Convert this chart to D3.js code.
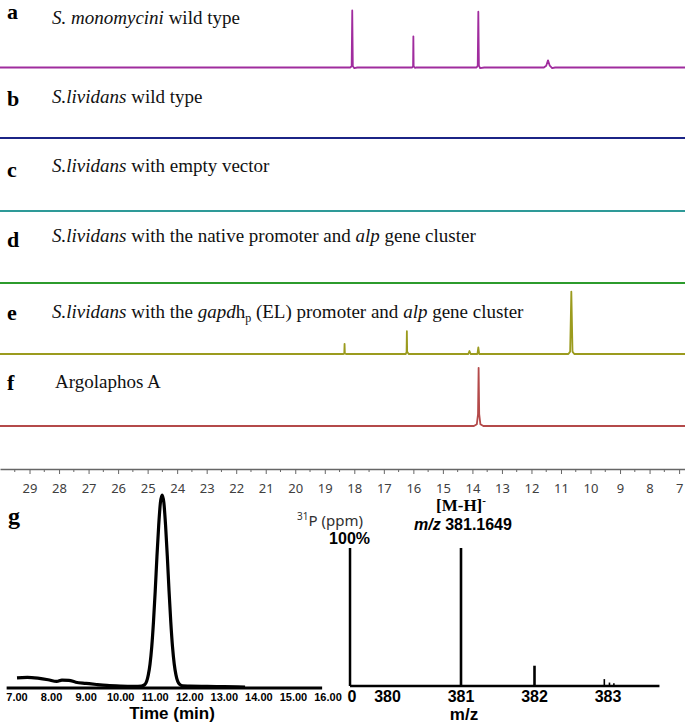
<!DOCTYPE html>
<html><head><meta charset="utf-8">
<script src="https://cdn.jsdelivr.net/npm/d3@7"></script>
<style>html,body{margin:0;padding:0;background:#fff;}svg{display:block;}</style>
</head><body><svg id="c" width="685" height="723"></svg>
<script>
// ---------- DATA ----------
const panelLetters = ["a","b","c","d","e","f"];
const captions = [
  [{t:"S. monomycini",i:1},{t:" wild type"}],
  [{t:"S.lividans",i:1},{t:" wild type"}],
  [{t:"S.lividans",i:1},{t:" with empty vector"}],
  [{t:"S.lividans",i:1},{t:" with the native promoter and "},{t:"alp",i:1},{t:" gene cluster"}],
  [{t:"S.lividans",i:1},{t:" with the "},{t:"gapd",i:1},{t:"h"},{t:"p",sub:1},{t:" (EL) promoter and "},{t:"alp",i:1},{t:" gene cluster"}],
  [{t:"Argolaphos A"}]
];
const spectrumColors = ["#a02c9e","#1b2486","#2e9a98","#2c9b2c","#9b9b1e","#b44a4a"];
// [ppm, intensity]
const specA = [[30,0],[18.14,0],[18.09,2],[18.07,95],[18.05,2],[18.0,-1],[17.9,0],[16.04,0],[16.01,2],[16.0,52],[15.99,2],[15.95,-0.5],[15.9,0],[13.86,0],[13.82,3],[13.80,93],[13.78,3],[13.74,-1],[13.6,0],[11.58,0],[11.5,3],[11.44,12],[11.38,3],[11.3,-1],[11.2,0],[6.8,0]];
const specB = [[30,0],[6.8,0]];
const specC = [[30,0],[6.8,0]];
const specD = [[30,0],[6.8,0]];
const specE = [[30,0],[18.37,0],[18.34,1],[18.33,17],[18.32,1],[18.28,0],[16.26,0],[16.23,3],[16.22,38],[16.21,4],[16.16,0],[14.14,0],[14.1,5],[14.06,0],[13.83,0],[13.80,11],[13.77,0],[10.75,0],[10.69,4],[10.65,104],[10.61,4],[10.55,0],[6.8,0]];
const specF = [[30,0],[13.95,0],[13.85,3],[13.81,20],[13.79,97],[13.77,20],[13.73,3],[13.63,0],[6.8,0]];
const spectra = [specA,specB,specC,specD,specE,specF];
const ppmTicks = d3.range(7,30,1);
const ppmMinor = d3.range(7.5,30,1);

// chromatogram [time, intensity]
const chromo = [[7.0,4.8],[7.3,5.0],[7.6,4.6],[7.9,3.8],[8.15,2.9],[8.3,3.6],[8.5,3.5],[8.7,2.5],[9.0,1.9],[9.3,1.3],[9.6,0.8],[10.0,0.5],[10.4,0.4],[10.6,0.5],[10.7,1.3],[10.8,6.3],[10.85,12],[10.9,21],[10.95,34],[11.0,50],[11.05,68],[11.1,84],[11.15,96],[11.2,100],[11.25,96],[11.3,84],[11.35,68],[11.4,50],[11.45,34],[11.5,21],[11.55,12],[11.6,6.3],[11.7,1.5],[11.8,0.6],[12.0,0.5],[12.5,0.3],[13.0,0.2],[13.6,0]];
const timeTicks = [7,8,9,10,11,12,13,14,15,16];

// mass spectrum
const msMz = [381.0, 382.0, 382.95, 383.02, 383.08];
const msInt = [100, 14.7, 5, 2.5, 2];
const mzTicks = [380,381,382,383];

// ---------- DRAW ----------
const svg = d3.select("#c");
const serif = "'Liberation Serif','Times New Roman',serif";
const sans = "'Liberation Sans',Arial,sans-serif";

const x = d3.scaleLinear().domain([30.0, 6.8]).range([0, 685]);
const h = d3.scaleLinear().domain([0,100]).range([0,60]);
const baselines = [67.5,138,211,283,354,426];
const letterY = [19,106,177,247,320,390];
const captionY = [24,103,172,242,318,388];

spectra.forEach((s,k)=>{
  const line = d3.line().x(d=>x(d[0])).y(d=>baselines[k]-h(d[1]));
  svg.append("path").attr("d",line(s)).attr("fill","none")
    .attr("stroke",spectrumColors[k]).attr("stroke-width",1.8).attr("stroke-linejoin","round");
  svg.append("text").attr("x",7).attr("y",letterY[k]).attr("font-family",serif)
    .attr("font-weight","bold").attr("font-size",22).text(panelLetters[k]);
  const t = svg.append("text").attr("x",k===5?55:52).attr("y",captionY[k])
    .attr("font-family",serif).attr("font-size",19).attr("fill","#111");
  let shifted=false;
  captions[k].forEach(p=>{
    const ts = t.append("tspan").text(p.t);
    if(p.i) ts.attr("font-style","italic");
    if(p.sub){ ts.attr("font-size",12).attr("dy",4); shifted=true; }
    else if(shifted){ ts.attr("dy",-4); shifted=false; }
  });
});

// ppm axis
const axY = 469;
const ax = svg.append("g").attr("transform",`translate(0,${axY})`)
  .call(d3.axisBottom(x).tickValues(ppmTicks).tickFormat(d3.format("d")).tickSize(5).tickSizeOuter(0).tickPadding(10));
ax.select(".domain").attr("stroke","#666").attr("stroke-width",1.3);
ax.selectAll(".tick line").attr("stroke","#666");
ax.selectAll(".tick text").attr("font-family","'Noto Sans',sans-serif").attr("font-size",13).attr("fill","#404040");
svg.append("g").selectAll("line").data(ppmMinor).join("line")
  .attr("x1",d=>x(d)).attr("x2",d=>x(d)).attr("y1",axY).attr("y2",axY+3).attr("stroke","#666");
const tt = svg.append("text").attr("x",330).attr("y",526).attr("text-anchor","middle")
  .attr("font-family","'Noto Sans',sans-serif").attr("font-size",15).attr("fill","#303030");
tt.append("tspan").attr("font-size",10).attr("dy",-6).text("31");
tt.append("tspan").attr("dy",6).text("P (ppm)");

// panel g
svg.append("text").attr("x",8).attr("y",524).attr("font-family",serif)
  .attr("font-weight","bold").attr("font-size",24).text("g");

const xt = d3.scaleLinear().domain([7,16]).range([17,328]);
const yt = d3.scaleLinear().domain([0,100]).range([687,495]);
svg.append("line").attr("x1",xt(6.7)).attr("x2",xt(15.83)).attr("y1",688).attr("y2",688)
  .attr("stroke","#000").attr("stroke-width",3);
svg.append("path").attr("d",d3.line().curve(d3.curveMonotoneX).x(d=>xt(d[0])).y(d=>yt(d[1]))(chromo))
  .attr("fill","none").attr("stroke","#000").attr("stroke-width",3.2).attr("stroke-linejoin","round");
svg.append("g").selectAll("text").data(timeTicks).join("text")
  .attr("x",d=>xt(d)).attr("y",701).attr("text-anchor","middle")
  .attr("font-family",sans).attr("font-weight","bold").attr("font-size",11).text(d=>d.toFixed(2));
svg.append("text").attr("x",172).attr("y",719).attr("text-anchor","middle")
  .attr("font-family",sans).attr("font-weight","bold").attr("font-size",17).text("Time (min)");

// mass spectrum
const xm = d3.scaleLinear().domain([380,383]).range([387.5,608]);
const ym = d3.scaleLinear().domain([0,100]).range([686,548]);
svg.append("line").attr("x1",xm(379.49)).attr("x2",xm(383.7)).attr("y1",ym(0)).attr("y2",ym(0))
  .attr("stroke","#000").attr("stroke-width",2.5);
svg.append("line").attr("x1",xm(379.49)).attr("x2",xm(379.49)).attr("y1",ym(0)).attr("y2",ym(100))
  .attr("stroke","#000").attr("stroke-width",2.5);
svg.append("g").selectAll("line").data(msMz).join("line")
  .attr("x1",d=>xm(d)).attr("x2",d=>xm(d)).attr("y1",ym(0)).attr("y2",(d,i)=>ym(msInt[i]))
  .attr("stroke","#000").attr("stroke-width",(d,i)=>i<2?2.6:1.6);
svg.append("g").selectAll("text").data(mzTicks).join("text")
  .attr("x",d=>xm(d)).attr("y",702).attr("text-anchor","middle")
  .attr("font-family",sans).attr("font-weight","bold").attr("font-size",16).text(d=>d);
svg.append("text").attr("x",xm(379.49)+2).attr("y",702).attr("text-anchor","middle")
  .attr("font-family",sans).attr("font-weight","bold").attr("font-size",16).text("0");
svg.append("text").attr("x",370).attr("y",544).attr("text-anchor","end")
  .attr("font-family",sans).attr("font-weight","bold").attr("font-size",16).text("100%");
svg.append("text").attr("x",464).attr("y",720).attr("text-anchor","middle")
  .attr("font-family",sans).attr("font-weight","bold").attr("font-size",17).text("m/z");
const mh = svg.append("text").attr("x",461).attr("y",511).attr("text-anchor","middle")
  .attr("font-family",serif).attr("font-weight","bold").attr("font-size",17);
mh.append("tspan").text("[M-H]");
mh.append("tspan").attr("font-size",11).attr("dy",-7).text("-");
const mz = svg.append("text").attr("x",463).attr("y",530).attr("text-anchor","middle")
  .attr("font-family",sans).attr("font-weight","bold").attr("font-size",16);
mz.append("tspan").attr("font-style","italic").text("m/z");
mz.append("tspan").text(" 381.1649");
</script></body></html>
